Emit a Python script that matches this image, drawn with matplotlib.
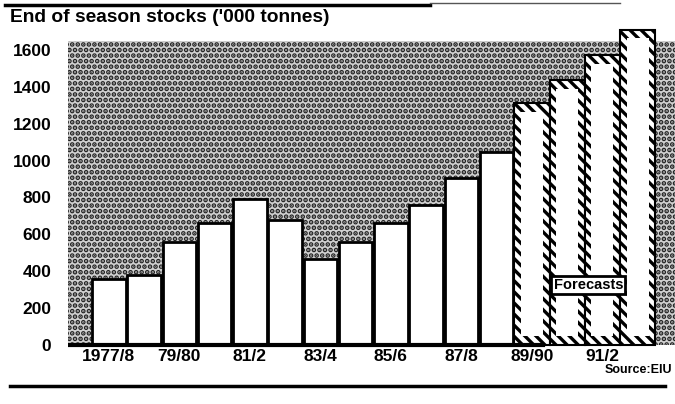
import matplotlib
matplotlib.use('Agg')
import matplotlib.pyplot as plt
from matplotlib.patches import Rectangle
from matplotlib.lines import Line2D

# Data
seasons = ['1977/8', '78/9', '79/80', '80/1', '81/2', '82/3', '83/4', '84/5',
           '85/6', '86/7', '87/8', '88/9', '89/90', '90/1', '91/2', '92/3']
stocks = [360, 380, 560, 660, 790, 680, 465, 560,
          660, 760, 905, 1045, 1310, 1435, 1570, 1710]
is_forecast = [False] * 12 + [True] * 4
yticks = [0, 200, 400, 600, 800, 1000, 1200, 1400, 1600]
tick_every = 2

plt.rcParams['hatch.linewidth'] = 2.4
bold = dict(family=['Liberation Sans', 'DejaVu Sans'], weight='bold')

W, H = 675, 404
fig = plt.figure(figsize=(W / 100, H / 100), dpi=100)
# axes placed in pixel terms: left 68, right 675, top 26, bottom 348
ax = fig.add_axes([68 / W, (H - 348) / H, (675 - 68) / W, (348 - 26) / H])

x = list(range(len(seasons)))
ax.set_xlim(-1.16, 16.06)
ax.set_ylim(-16, 1729)

# stippled background panel
ax.add_patch(Rectangle((-1.16, 0), 17.3, 1650, facecolor='#d0d0d0',
                       edgecolor='#222222', hatch='...', lw=0, zorder=0))

actual_x = [i for i, f in zip(x, is_forecast) if not f]
actual_y = [v for v, f in zip(stocks, is_forecast) if not f]
fc_x = [i for i, f in zip(x, is_forecast) if f]
fc_y = [v for v, f in zip(stocks, is_forecast) if f]

ax.bar(actual_x, actual_y, width=0.95, color='white', edgecolor='black',
       linewidth=2, zorder=2)

# forecast bars: hatched frame with white core
ax.bar(fc_x, fc_y, width=1.0, color='white', edgecolor='black',
       hatch='\\\\\\', linewidth=1.5, zorder=2)
inset_x, inset_y = 0.19, 48
ax.bar(fc_x, [v - 2 * inset_y for v in fc_y], bottom=inset_y,
       width=1.0 - 2 * inset_x, color='white', linewidth=0, zorder=3)

# baseline
ax.axhline(0, xmin=0, xmax=0.783, color='black', lw=3, zorder=4)

ax.text(13.6, 325, 'Forecasts', ha='center', va='center', fontsize=10.5,
        zorder=5, bbox=dict(boxstyle='square,pad=0.15', fc='white',
                            ec='black', lw=2), **bold)

ax.set_yticks(yticks)
ax.set_yticklabels([str(t) for t in yticks], fontsize=12.5, **bold)
ax.set_xticks(x[::tick_every])
ax.set_xticklabels(seasons[::tick_every], fontsize=12.5, **bold)
ax.tick_params(axis='y', length=0, pad=12)
ax.tick_params(axis='x', length=0, pad=0.5)
for s in ax.spines.values():
    s.set_visible(False)

fig.text(10 / W, 1 - 18 / H, "End of season stocks ('000 tonnes)",
         fontsize=13.8, ha='left', va='center', **bold)
fig.text(672 / W, 1 - 370 / H, 'Source:EIU', fontsize=9, ha='right',
         va='center', **bold)

# rules at top and bottom
fig.add_artist(Line2D([5 / W, 430 / W], [1 - 5 / H, 1 - 5 / H],
                      color='black', lw=2.5))
fig.add_artist(Line2D([430 / W, 620 / W], [1 - 3 / H, 1 - 3 / H],
                      color='#555555', lw=1))
fig.add_artist(Line2D([10 / W, 665 / W], [1 - 386 / H, 1 - 386 / H],
                      color='black', lw=2.5))

fig.savefig('out.png', dpi=100)
